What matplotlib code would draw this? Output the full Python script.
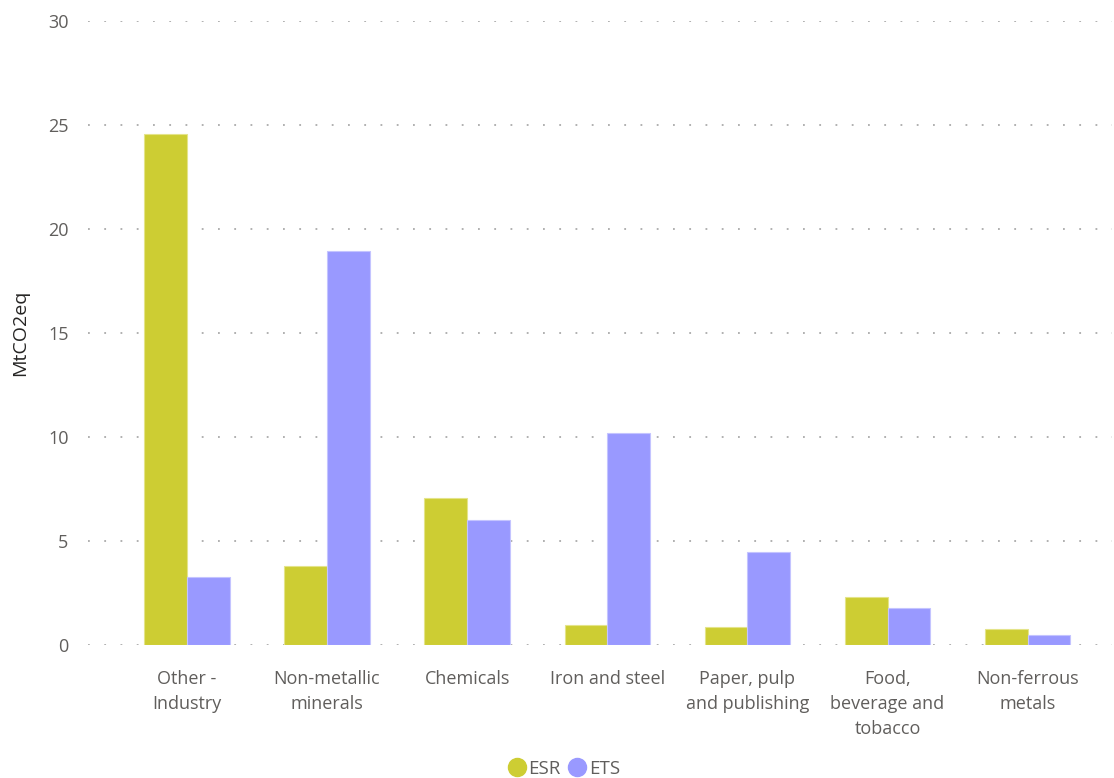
import numpy as np
import matplotlib
matplotlib.use('Agg')
import matplotlib.pyplot as plt
from matplotlib.lines import Line2D

# выбросы промышленности по секторам, MtCO2eq
sectors = ['Other -\nIndustry', 'Non-metallic\nminerals', 'Chemicals', 'Iron and steel',
           'Paper, pulp\nand publishing', 'Food,\nbeverage and\ntobacco', 'Non-ferrous\nmetals']
esr = [24.57, 3.81, 7.08, 0.98, 0.87, 2.31, 0.77]
ets = [3.27, 18.96, 6.01, 10.21, 4.49, 1.81, 0.47]

esr_color = '#CDCD33'
ets_color = '#9999FF'
text_color = '#605E5C'

plt.rcParams['font.family'] = ['Open Sans', 'DejaVu Sans']

fig = plt.figure(figsize=(11.14, 7.78), dpi=100)
ax = fig.add_axes([0.079, 0.1706, 0.919, 0.8024])

x = np.arange(len(sectors))
w = 0.305
ax.bar(x - w / 2, esr, w, color=esr_color, edgecolor='#E4E48A', linewidth=0.8, zorder=3)
ax.bar(x + w / 2, ets, w, color=ets_color, edgecolor='#C4C4FF', linewidth=0.8, zorder=3)

ax.set_xlim(-0.705, 6.6)
ax.set_ylim(0, 30)
ax.set_yticks(range(0, 31, 5))
ax.set_xticks(x)
ax.set_xticklabels(sectors, fontsize=13, color=text_color, linespacing=1.5)
ax.tick_params(axis='y', labelsize=13, labelcolor=text_color, length=0, pad=14)
ax.tick_params(axis='x', length=0, pad=18)

ax.grid(axis='y', color='#AAAAAA', linestyle=(0, (1, 8)), linewidth=1.3, zorder=0)
for s in ax.spines.values():
    s.set_visible(False)

ax.set_ylabel('MtCO2eq', fontsize=14, color='#252423')
ax.yaxis.set_label_coords(-0.058, 0.5)

handles = [Line2D([], [], marker='o', linestyle='', markersize=13, color=esr_color),
           Line2D([], [], marker='o', linestyle='', markersize=13, color=ets_color)]
fig.legend(handles, ['ESR', 'ETS'], loc='center', bbox_to_anchor=(0.506, 0.012),
           ncol=2, frameon=False, fontsize=13.5, labelcolor=text_color,
           handletextpad=0.1, columnspacing=0.4, handlelength=1.0)

fig.savefig('out.png', dpi=100, facecolor='white')
